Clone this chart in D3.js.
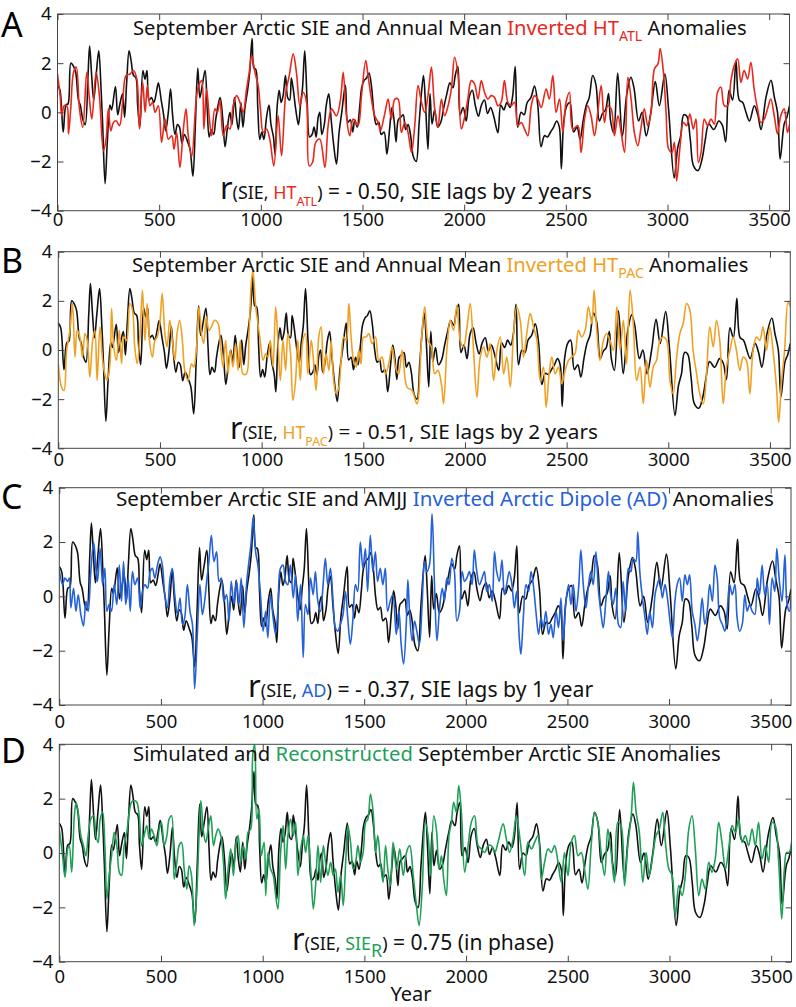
<!DOCTYPE html>
<html>
<head>
<meta charset="utf-8">
<title>Arctic SIE anomalies</title>
<script src="https://cdnjs.cloudflare.com/ajax/libs/d3/7.8.5/d3.min.js"></script>
<style>
  body { margin: 0; background: #fff; }
  svg { display: block; font-family: "Noto Sans", "Open Sans", sans-serif; }
</style>
</head>
<body>
<svg id="chart" width="796" height="1007"></svg>
<script>
// [year, anomaly]
const sie = [[0,1.1],[12,0.9],[28,-0.8],[42,0.3],[52,0.35],[66,2.0],[80,1.85],[90,1.6],[103,0.5],[112,0.3],[125,-0.3],[136,-0.5],[150,1.5],[158,2.7],[168,1.5],[178,0.5],[190,1.5],[203,2.5],[214,1.0],[222,-0.5],[234,-2.9],[245,-1.2],[258,0.3],[266,0.1],[285,1.05],[296,-0.1],[306,0.3],[320,0.75],[330,-0.2],[340,1.2],[352,2.5],[362,2.1],[374,1.5],[386,1.4],[394,0.3],[405,-0.6],[420,1.7],[430,1.35],[440,1.7],[450,0.5],[462,0.6],[474,0.4],[486,0.8],[496,1.2],[510,0.5],[522,-0.1],[532,-0.75],[545,0.0],[556,0.95],[566,-0.1],[578,-0.9],[590,-0.5],[600,-0.6],[612,-1.25],[624,-0.9],[640,-1.2],[652,-1.5],[666,-2.6],[678,-0.5],[690,1.8],[700,0.6],[712,1.1],[726,1.7],[736,0.2],[746,-1.0],[756,-0.7],[768,-0.9],[778,-0.3],[790,0.3],[800,0.6],[812,-0.2],[824,-1.4],[836,-0.6],[848,0.0],[858,-0.5],[870,0.6],[880,-0.2],[890,-0.7],[902,0.4],[912,-0.6],[922,0.2],[935,0.9],[945,1.6],[957,3.0],[966,1.8],[975,1.75],[985,0.2],[995,-1.1],[1005,-0.8],[1015,-1.1],[1028,-0.2],[1040,0.3],[1050,-0.5],[1062,-1.0],[1070,-1.7],[1080,0.2],[1090,0.9],[1100,0.4],[1110,0.7],[1121,1.5],[1132,0.6],[1142,0.5],[1150,1.4],[1160,0.9],[1172,0.1],[1185,-0.5],[1195,0.3],[1205,1.0],[1216,2.5],[1228,0.4],[1240,-1.0],[1252,-0.9],[1262,-0.6],[1272,-1.0],[1282,-0.2],[1290,0.0],[1300,-0.9],[1312,-0.5],[1322,0.3],[1334,0.75],[1346,-0.3],[1358,-1.3],[1372,-2.1],[1385,-0.8],[1398,0.0],[1416,1.1],[1428,-0.4],[1440,-0.3],[1452,-0.8],[1462,-0.3],[1474,-0.6],[1486,0.2],[1496,1.0],[1508,1.3],[1520,1.4],[1532,1.6],[1545,1.0],[1556,0.0],[1568,-0.5],[1580,-0.4],[1592,-0.9],[1606,-0.8],[1620,-1.7],[1634,-0.6],[1645,0.2],[1655,-0.3],[1665,-1.2],[1676,-0.3],[1688,-0.2],[1700,-0.1],[1712,-0.7],[1724,-0.5],[1736,-0.9],[1750,-1.8],[1764,-2.0],[1778,-0.5],[1790,0.8],[1800,1.5],[1810,0.3],[1822,-1.5],[1832,0.76],[1842,-0.47],[1855,0.1],[1870,-0.6],[1885,-0.4],[1900,0.2],[1915,0.76],[1930,1.2],[1945,1.0],[1956,1.5],[1969,1.86],[1980,-0.1],[1995,0.2],[2010,-0.35],[2025,0.64],[2040,0.9],[2055,0.27],[2070,-0.16],[2085,0.3],[2100,0.5],[2115,-0.05],[2130,0.2],[2145,-0.15],[2166,-0.83],[2180,0.3],[2195,0.1],[2210,0.4],[2225,0.2],[2238,0.64],[2251,1.86],[2263,-0.6],[2280,0.0],[2295,-0.1],[2310,0.4],[2328,0.6],[2346,1.07],[2362,0.3],[2378,-1.4],[2395,-0.95],[2410,-1.0],[2425,-0.8],[2440,-0.6],[2455,-0.35],[2468,-0.6],[2478,-2.3],[2490,-0.35],[2505,0.27],[2520,0.4],[2538,-0.8],[2555,-0.6],[2570,-1.1],[2585,-0.35],[2600,0.27],[2615,0.6],[2632,1.5],[2648,1.13],[2665,-0.35],[2680,-0.05],[2695,0.1],[2710,0.76],[2720,-0.35],[2735,-0.83],[2755,1.6],[2778,-0.96],[2800,0.76],[2820,1.43],[2835,1.0],[2858,-0.35],[2875,0.0],[2895,-0.96],[2918,0.0],[2940,1.25],[2960,0.27],[2987,1.56],[3005,0.15],[3033,-2.67],[3050,-1.45],[3065,-0.96],[3080,-0.1],[3095,-0.16],[3112,-1.1],[3128,-2.18],[3150,-2.37],[3170,-1.9],[3186,-1.1],[3203,-0.47],[3228,-0.7],[3252,-0.35],[3270,-0.53],[3286,-1.2],[3303,0.9],[3320,0.5],[3337,2.1],[3353,0.5],[3370,0.4],[3386,0.0],[3403,-0.35],[3427,0.27],[3444,-0.1],[3460,-0.7],[3485,0.64],[3509,1.3],[3525,0.64],[3541,0.0],[3554,-1.9],[3574,-0.47],[3587,-0.2],[3600,0.27]];

const htAtl = [[0,1.56],[13,0.68],[21,-0.14],[33,0.27],[46,0.27],[54,-0.88],[65,0.14],[79,1.63],[92,1.84],[108,0.14],[124,-0.61],[144,1.63],[157,0.54],[169,-0.27],[190,1.63],[206,0.68],[226,-1.56],[239,-1.09],[250,0.14],[262,-0.75],[275,-0.41],[288,-0.34],[305,-0.54],[321,0.48],[337,1.5],[357,1.56],[373,1.7],[390,1.36],[403,-0.68],[419,1.22],[431,0],[442,1.09],[455,0.27],[468,0.41],[480,0],[496,0.27],[512,-1.22],[529,-0.27],[545,-1.09],[562,-0.95],[573,-1.5],[586,-0.82],[602,-2.24],[619,-0.68],[632,0.14],[643,-0.95],[660,-1.8],[681,0.41],[692,1.02],[709,1.29],[720,-0.68],[733,0.95],[747,-0.27],[758,-0.95],[774,0.14],[786,0],[799,0.48],[815,-0.95],[832,-0.54],[848,-0.68],[864,0.27],[881,0.68],[897,0.41],[913,0],[930,0.95],[943,1.63],[955,2.31],[971,1.63],[987,1.09],[998,0.14],[1012,-0.82],[1028,-0.68],[1044,-1.09],[1064,-2.18],[1085,-0.14],[1102,-1.77],[1123,0.82],[1140,1.5],[1159,2.38],[1175,1.63],[1192,0.27],[1208,0.82],[1225,0.41],[1238,-2.18],[1254,-2.04],[1270,-1.22],[1290,-1.09],[1315,-2.24],[1331,-0.54],[1348,0.14],[1372,-0.14],[1392,0.54],[1405,1.63],[1421,-0.14],[1437,-0.95],[1454,-0.27],[1478,-0.54],[1495,0.68],[1516,2.11],[1527,1.5],[1544,0.54],[1560,-0.14],[1577,-0.41],[1588,-0.75],[1609,-0.07],[1626,0.54],[1642,-0.27],[1659,0.54],[1675,0.54],[1691,-0.82],[1708,-0.41],[1724,-0.82],[1741,-1.63],[1757,-0.54],[1773,1.09],[1790,0.41],[1806,0],[1822,0.68],[1839,1.84],[1855,0.14],[1871,-0.61],[1888,0.54],[1904,-0.14],[1921,0.27],[1937,0.95],[1953,2.24],[1970,1.5],[1986,-0.68],[2002,-0.2],[2018,0.54],[2035,1.29],[2051,1.16],[2068,0.54],[2084,1.29],[2100,0.82],[2117,0.54],[2133,0.68],[2149,0.61],[2166,0.27],[2182,0.41],[2198,1.29],[2215,0.41],[2231,0.27],[2248,0.41],[2264,-0.54],[2281,-0.41],[2297,-0.68],[2313,-0.95],[2330,0.27],[2346,0.68],[2362,0.54],[2379,0.2],[2403,0.95],[2419,0.54],[2436,1.5],[2452,0],[2469,0.54],[2485,-0.82],[2501,0.41],[2518,0.82],[2534,-0.68],[2559,-0.54],[2575,-1.63],[2592,-0.27],[2608,0.27],[2624,-0.14],[2641,-0.95],[2657,0],[2674,1.09],[2690,-0.41],[2706,0.27],[2723,0.14],[2739,-0.95],[2756,-0.14],[2772,-0.82],[2789,-1.63],[2805,1.43],[2821,0.54],[2837,-0.82],[2854,-1.36],[2870,-0.61],[2886,0.14],[2903,-0.54],[2919,0],[2936,1.77],[2953,1.97],[2964,2.59],[2980,1.63],[2993,0],[3006,-1.5],[3022,-1.63],[3034,-1.22],[3045,-2.79],[3062,-1.36],[3078,-0.41],[3094,-0.54],[3110,-0.07],[3127,-0.68],[3140,-0.27],[3152,-2.04],[3165,-1.63],[3181,-0.27],[3197,-0.54],[3214,-0.27],[3230,-0.48],[3246,0.82],[3263,1.02],[3279,0.27],[3296,0.27],[3312,1.29],[3328,1.9],[3345,2.18],[3361,1.22],[3377,1.7],[3394,1.36],[3410,2.04],[3426,0.95],[3443,0.14],[3459,-0.41],[3476,-0.27],[3492,0.14],[3508,0.54],[3525,-0.14],[3541,-0.88],[3557,-0.14],[3574,0.14],[3590,-0.82],[3600,-0.5]];

const htPac = [[0,-0.56],[16,-1.51],[28,-1.65],[41,-0.01],[57,0.8],[70,1.89],[82,-0.29],[93,0.8],[106,0.53],[119,-0.29],[131,0.67],[142,0.39],[155,-1.1],[169,0.39],[180,0.8],[191,-1.24],[205,0.94],[218,-0.42],[229,-0.97],[240,-1.24],[254,-0.56],[262,1.69],[273,0.12],[286,-0.42],[300,0.8],[311,-0.56],[322,0.53],[336,0.39],[352,1.89],[365,1.62],[376,0.12],[388,-0.56],[401,0.53],[414,2.44],[426,0.39],[437,1.89],[450,0.26],[463,-0.29],[475,0.39],[486,0.53],[499,1.07],[511,2.3],[524,0.67],[535,0.12],[548,1.21],[561,0.39],[573,-0.42],[584,0.67],[597,1.21],[610,0.39],[622,-0.83],[638,-1.24],[655,-0.56],[666,-0.69],[679,-0.01],[692,1.76],[704,0.67],[715,0.26],[728,1.35],[741,0.8],[753,0.94],[769,1.21],[786,1.07],[797,0.26],[810,-0.69],[823,0.39],[835,-0.97],[846,-0.01],[859,-0.69],[872,0.26],[884,-0.83],[895,0.39],[908,-0.97],[925,-0.97],[938,0.67],[949,2.71],[957,3.25],[971,1.76],[982,1.07],[993,0.39],[1007,-0.42],[1020,-0.15],[1031,-0.29],[1043,0.39],[1056,-0.69],[1069,1.76],[1080,0.39],[1092,-1.24],[1105,0.39],[1118,-0.83],[1129,0.67],[1141,-0.01],[1154,-2.05],[1167,-1.24],[1178,0.39],[1190,-1.24],[1203,0.39],[1216,0.67],[1227,-0.97],[1244,0.39],[1255,-0.42],[1268,-1.65],[1281,0.53],[1293,0.94],[1304,-0.97],[1317,-0.15],[1331,-0.83],[1342,0.39],[1354,-1.24],[1367,-1.78],[1380,-1.51],[1391,-0.42],[1403,0.53],[1416,0.39],[1429,1.89],[1440,0.53],[1452,-0.42],[1465,-0.69],[1478,-0.01],[1489,-0.56],[1501,0.53],[1514,0.53],[1527,0.67],[1543,0.26],[1560,0.53],[1576,-0.42],[1592,-0.29],[1609,-0.97],[1625,-0.56],[1642,0.12],[1658,-0.69],[1674,-0.97],[1691,-0.01],[1715,-1.51],[1740,-1.65],[1764,-2.19],[1786,0.39],[1802,1.76],[1818,0.39],[1835,0.12],[1851,-0.97],[1867,-0.83],[1884,-1.37],[1895,-2.19],[1912,0.12],[1928,1.21],[1944,0.8],[1960,1.82],[1977,0.39],[1993,0.12],[2010,0.94],[2026,1.89],[2042,-0.01],[2059,-1.92],[2075,-0.29],[2092,0.12],[2108,-0.29],[2124,0.26],[2141,-1.24],[2157,-0.01],[2174,0.53],[2190,-0.97],[2206,-0.29],[2223,-1.51],[2239,0.67],[2255,1.76],[2272,1.21],[2288,-0.29],[2304,0.67],[2321,1.48],[2337,0.94],[2354,0.39],[2370,-1.24],[2386,-0.69],[2399,-2.33],[2414,-0.97],[2427,-0.29],[2444,-0.97],[2460,-0.69],[2476,-1.37],[2493,-0.83],[2509,-0.42],[2525,-0.29],[2541,-0.15],[2558,0.8],[2574,0.53],[2591,0.8],[2607,1.76],[2624,1.07],[2635,2.44],[2648,0.8],[2664,-0.42],[2681,0.39],[2697,0.67],[2713,0.39],[2730,-0.01],[2747,1.76],[2763,-0.01],[2779,1.21],[2795,-0.56],[2812,2.44],[2828,1.07],[2844,-1.24],[2861,-0.69],[2877,-2.19],[2893,-0.42],[2910,-1.51],[2926,-0.69],[2942,-0.42],[2959,0.39],[2975,0.53],[2992,0.39],[3008,-1.24],[3024,-1.78],[3041,-0.29],[3057,0.67],[3073,1.07],[3090,1.89],[3106,1.62],[3122,-0.01],[3139,-0.97],[3155,-1.78],[3172,-2.19],[3188,-0.97],[3204,0.94],[3221,0.12],[3237,1.21],[3253,0.39],[3270,-2.19],[3286,-0.69],[3303,-0.01],[3319,0.53],[3335,-0.01],[3352,-0.83],[3368,-0.29],[3384,-0.42],[3401,-1.78],[3417,-0.01],[3434,0.53],[3450,0.39],[3466,0.94],[3483,-0.01],[3499,0.94],[3515,-0.01],[3532,-1.51],[3543,-2.94],[3556,-1.37],[3572,-0.01],[3589,1.96],[3600,1.76]];

const ad = [[0,0.97],[16,0.43],[28,0.67],[41,0.55],[49,0.67],[57,-0.43],[70,0.3],[82,-0.55],[93,0.06],[106,-0.67],[119,-1.09],[131,-0.18],[142,-0.55],[155,0.91],[169,2.0],[180,1.03],[188,0.55],[201,1.76],[213,0.43],[224,1.03],[234,-0.55],[245,-0.3],[257,-0.55],[270,0.43],[283,-0.3],[295,1.15],[306,-0.18],[316,1.28],[327,-0.3],[339,0.67],[349,-0.55],[360,0.91],[372,0.43],[385,0.67],[398,-0.43],[409,0.18],[421,0.43],[434,0.3],[447,0.91],[458,1.03],[470,0.67],[483,1.15],[496,1.46],[507,1.15],[519,0.06],[532,-0.43],[545,0.67],[556,1.03],[568,0.06],[581,-0.67],[594,-0.06],[606,-1.03],[617,-0.79],[630,0.43],[643,-0.55],[655,-1.03],[666,-3.4],[679,-1.4],[692,0.43],[704,-0.67],[715,-0.18],[725,0.55],[736,1.28],[748,2.25],[761,1.28],[774,1.64],[786,0.55],[797,0.67],[810,-0.18],[823,0.06],[835,-0.91],[846,0.55],[859,-0.3],[872,0.55],[884,-0.3],[895,0.67],[908,-1.15],[921,0.43],[933,1.28],[944,2.0],[954,2.92],[966,1.64],[977,1.15],[990,0.06],[1003,-1.28],[1015,-0.55],[1026,-1.52],[1039,0.06],[1052,-0.79],[1064,-1.4],[1075,-0.55],[1088,1.03],[1101,1.15],[1113,0.55],[1124,0.43],[1137,1.15],[1151,-0.06],[1162,0.79],[1173,-0.91],[1187,0.43],[1200,-2.25],[1211,-0.3],[1223,-0.67],[1236,0.67],[1249,0.06],[1260,0.91],[1272,-0.18],[1285,-0.55],[1298,0.43],[1309,1.4],[1321,0.43],[1334,1.03],[1347,-0.18],[1358,-1.15],[1370,-1.28],[1383,-1.03],[1396,-0.67],[1408,0.18],[1419,-0.79],[1432,-1.76],[1445,-0.79],[1457,0.43],[1468,0.18],[1481,2.0],[1494,1.03],[1506,1.76],[1517,0.18],[1530,2.25],[1543,0.91],[1555,1.64],[1566,0.55],[1579,1.03],[1592,0.43],[1604,1.03],[1615,-0.55],[1628,-0.18],[1641,0.06],[1658,-1.4],[1671,-0.55],[1682,-1.76],[1694,-2.49],[1707,-1.03],[1715,0.61],[1723,-0.55],[1736,-1.64],[1748,-0.91],[1759,-1.28],[1772,-1.76],[1785,-0.3],[1797,1.28],[1808,0.91],[1821,1.15],[1834,3.04],[1846,0.43],[1858,-1.64],[1871,-0.43],[1884,0.3],[1895,-0.18],[1907,0.67],[1918,0.43],[1931,1.4],[1944,0.91],[1956,-0.91],[1969,-0.55],[1982,0.91],[1994,0.55],[2005,0.67],[2018,0.91],[2031,0.43],[2042,1.7],[2054,0.91],[2067,0.43],[2080,0.67],[2092,0.91],[2103,0.18],[2116,0.43],[2130,-0.18],[2141,1.64],[2152,0.91],[2165,0.55],[2178,1.34],[2190,0.06],[2201,0.43],[2214,0.91],[2227,0.43],[2239,-0.43],[2250,0.18],[2263,-1.52],[2271,-2.13],[2283,-0.79],[2296,0.43],[2309,0.18],[2321,0.91],[2332,0.43],[2345,-0.55],[2358,-1.4],[2370,-0.79],[2381,-1.15],[2394,-0.55],[2407,-1.4],[2419,-1.03],[2430,-1.52],[2444,-0.55],[2456,-1.15],[2468,-0.06],[2479,-1.64],[2493,-0.18],[2506,0.43],[2517,-0.3],[2529,0.43],[2542,-0.55],[2555,0.3],[2566,1.7],[2578,0.43],[2591,-0.43],[2604,0.43],[2615,0.91],[2627,0.43],[2640,1.64],[2653,0.18],[2664,-0.55],[2676,-1.15],[2689,-0.18],[2702,0.91],[2713,0.06],[2725,-0.3],[2738,0.3],[2751,-1.03],[2762,-1.15],[2774,0.55],[2787,-0.55],[2800,1.03],[2812,0.91],[2823,1.4],[2836,1.28],[2846,2.37],[2856,0.91],[2869,-0.06],[2882,-0.79],[2893,-1.4],[2905,-0.55],[2918,-1.15],[2931,0.06],[2942,0.43],[2954,0.67],[2967,-0.06],[2980,0.43],[2992,-0.06],[3003,-0.79],[3016,-1.52],[3029,-0.18],[3040,0.43],[3052,0.67],[3065,-0.18],[3078,0.79],[3090,0.43],[3101,0.79],[3114,-0.55],[3127,-1.03],[3139,-1.64],[3151,-1.03],[3163,-0.06],[3176,-1.03],[3188,-0.55],[3200,0.43],[3213,-0.18],[3226,1.15],[3237,0.67],[3249,-0.79],[3262,-1.03],[3275,-1.28],[3286,-0.55],[3298,0.43],[3311,0.06],[3324,0.43],[3335,-0.79],[3347,-1.28],[3360,-1.03],[3373,0.06],[3384,-0.55],[3396,-0.3],[3409,-0.55],[3422,-0.67],[3434,0.67],[3445,0.06],[3458,1.15],[3471,0.06],[3483,0.43],[3494,-1.03],[3507,0.67],[3520,0.18],[3530,1.76],[3543,0.55],[3556,-0.18],[3570,1.52],[3581,-0.3],[3592,-0.55],[3600,-0.06]];

const sieR = [[0,0.88],[16,-0.1],[28,-0.9],[41,0.15],[49,0.27],[61,-0.71],[74,1.37],[83,1.87],[93,1.5],[106,0.64],[119,0.27],[131,-0.1],[142,0.64],[155,1.25],[169,1.37],[180,0.64],[191,0.39],[201,1.25],[213,1.5],[224,0.27],[234,-1.69],[245,-0.83],[257,-0.1],[270,0.76],[283,0.27],[295,-0.71],[306,-0.83],[319,0.27],[332,0.76],[344,1.5],[355,1.87],[368,1.93],[381,1.87],[393,1.37],[404,0.27],[417,0.64],[430,1.01],[442,0.52],[453,0.88],[466,0.64],[480,0.27],[491,0.88],[502,1.13],[516,0.27],[529,0.64],[540,1.25],[552,1.37],[565,-0.96],[578,-0.34],[589,0.27],[601,0.39],[614,-0.59],[627,-1.33],[638,-0.47],[650,-0.83],[663,-2.67],[676,-1.45],[687,0.64],[696,1.93],[709,0.76],[720,0.39],[732,0.88],[745,1.37],[758,0.27],[769,0.64],[781,0.88],[794,0.64],[807,-0.34],[818,-1.69],[830,-0.59],[843,0.15],[856,-0.83],[867,0.27],[879,0.64],[892,-0.34],[905,0.27],[917,-0.22],[928,0.76],[941,0.88],[951,3.58],[961,4.0],[971,1.25],[982,1.62],[993,-0.1],[1007,0.39],[1015,-1.57],[1026,0.02],[1039,-0.59],[1052,-0.83],[1064,-1.57],[1075,-2.06],[1088,0.02],[1101,1.01],[1113,-0.59],[1124,0.64],[1137,1.25],[1151,0.64],[1162,1.13],[1173,-0.83],[1187,0.15],[1200,0.64],[1211,0.02],[1223,0.64],[1236,-0.59],[1249,-2.06],[1260,-1.2],[1272,0.27],[1285,-1.08],[1298,0.27],[1309,-0.34],[1321,-0.83],[1334,-0.34],[1347,-0.83],[1358,-0.59],[1370,-1.45],[1383,-0.83],[1396,-1.94],[1408,-0.34],[1419,1.01],[1432,0.39],[1445,-0.59],[1457,-0.34],[1468,0.27],[1481,-0.34],[1494,0.02],[1506,1.13],[1517,1.25],[1530,2.17],[1543,1.5],[1555,0.02],[1566,0.64],[1579,-0.34],[1592,-1.08],[1604,0.27],[1615,-0.59],[1628,-1.2],[1641,0.39],[1658,-0.59],[1674,0.15],[1691,-0.83],[1707,0.02],[1723,0.27],[1740,-0.83],[1756,-1.94],[1769,-2.67],[1785,-1.2],[1799,1.13],[1813,0.64],[1826,-0.83],[1841,1.37],[1854,0.88],[1867,-0.59],[1879,-0.1],[1890,-0.96],[1903,-1.57],[1916,0.64],[1928,1.13],[1939,1.87],[1952,1.5],[1964,2.48],[1977,1.5],[1993,-0.71],[2010,0.27],[2026,1.13],[2042,1.37],[2059,0.27],[2075,0.15],[2092,0.02],[2108,0.27],[2124,0.27],[2141,0.02],[2157,0.39],[2182,1.07],[2198,0.52],[2214,0.02],[2231,0.52],[2247,1.37],[2267,0.39],[2288,-0.83],[2304,0.39],[2321,0.15],[2337,0.39],[2354,0.64],[2370,-0.96],[2386,-0.34],[2403,0.15],[2419,0.02],[2435,0.27],[2452,-0.34],[2468,-1.08],[2484,0.02],[2501,-0.83],[2517,0.39],[2533,0.64],[2550,-0.1],[2566,0.02],[2582,-0.59],[2599,-1.33],[2615,0.27],[2632,1.5],[2648,1.13],[2664,0.02],[2681,-0.83],[2697,0.88],[2713,0.02],[2730,-1.08],[2746,1.13],[2762,1.01],[2779,-1.2],[2795,0.27],[2812,1.37],[2823,2.6],[2836,1.5],[2852,0.76],[2869,-1.08],[2885,0.02],[2901,-0.83],[2918,-0.1],[2934,0.64],[2950,0.88],[2967,1.5],[2980,0.39],[2997,-0.59],[3013,-0.83],[3029,-2.31],[3046,-1.2],[3062,-1.57],[3078,-0.83],[3095,0.88],[3111,1.37],[3127,0.15],[3144,-1.57],[3160,-0.96],[3176,-1.33],[3193,-0.34],[3209,-0.71],[3225,-0.22],[3242,1.13],[3258,0.39],[3275,-0.59],[3291,0.15],[3308,1.01],[3324,0.76],[3340,1.25],[3357,0.39],[3373,0.64],[3389,0.27],[3406,0.88],[3422,0.27],[3438,1.13],[3455,-0.22],[3471,0.27],[3488,-0.34],[3504,1.13],[3520,1.01],[3537,-0.34],[3552,-2.43],[3565,-0.59],[3576,0.02],[3589,0.02],[3600,0.39]];

const xTicks = [0, 500, 1000, 1500, 2000, 2500, 3000, 3500];
const yTicks = [-4, -2, 0, 2, 4];
const xDomain = [0, 3600];
const yDomain = [-4, 4];

const red = "#e8281c", orange = "#f0a124", blue = "#2561d8", green = "#1f9f58";

// text pieces: [text, colour, size relative to base, "sub"]
const panels = [
  { letter: "A", top: 14, bottom: 210.7, left: 57.5, right: 789.5, pad: 2, letterY: 37,
    series: htAtl, color: red,
    title: [["September Arctic SIE and Annual Mean "], ["Inverted HT", red], ["ATL", red, 0.7, "sub"], [" Anomalies"]],
    titleX: 133, titleW: 614, titleY: 35,
    note: [["r", null, 1.45], ["(SIE, ", null, 0.85], ["HT", red, 0.85], ["ATL", red, 0.6, "sub"], [")", null, 0.85], [" = - 0.50,  SIE lags by 2 years"]],
    noteX: 220, noteW: 372, noteY: 199 },
  { letter: "B", top: 251.7, bottom: 448.3, left: 58.3, right: 790.3, pad: 5, letterY: 273,
    series: htPac, color: orange,
    title: [["September Arctic SIE and Annual Mean "], ["Inverted HT", orange], ["PAC", orange, 0.7, "sub"], [" Anomalies"]],
    titleX: 132, titleW: 617, titleY: 272,
    note: [["r", null, 1.45], ["(SIE, ", null, 0.85], ["HT", orange, 0.85], ["PAC", orange, 0.6, "sub"], [")", null, 0.85], [" = - 0.51,  SIE lags by 2 years"]],
    noteX: 230, noteW: 368, noteY: 439 },
  { letter: "C", top: 487.7, bottom: 705, left: 59.3, right: 791, pad: 10, letterY: 509,
    series: ad, color: blue,
    title: [["September Arctic SIE and AMJJ "], ["Inverted Arctic Dipole (AD)", blue], [" Anomalies"]],
    titleX: 116, titleW: 658, titleY: 506,
    note: [["r", null, 1.45], ["(SIE, ", null, 0.85], ["AD", blue, 0.85], [")", null, 0.85], [" = - 0.37,  SIE lags by 1 year"]],
    noteX: 248, noteW: 346, noteY: 697 },
  { letter: "D", top: 744.3, bottom: 961.7, left: 59.3, right: 791.5, pad: 8, letterY: 763,
    series: sieR, color: green,
    title: [["Simulated and "], ["Reconstructed", green], [" September Arctic SIE Anomalies"]],
    titleX: 133, titleW: 588, titleY: 761,
    note: [["r", null, 1.45], ["(SIE, ", null, 0.85], ["SIE", green, 0.85], ["R", green, 0.85, "sub"], [")", null, 0.85], [" = 0.75 (in phase)"]],
    noteX: 292, noteW: 262, noteY: 950 }
];

const svg = d3.select("#chart");

// write the pieces as tspans, then scale the font so the line spans the target width
function richText(g, pieces, x, y, width, base) {
  const t = g.append("text").attr("x", x).attr("y", y).attr("font-size", base).attr("fill", "#111");
  let shift = 0; // baseline shift, in base units
  pieces.forEach(p => {
    const size = p[2] || 1;
    const want = p[3] === "sub" ? 0.32 : 0;
    const ts = t.append("tspan").text(p[0]).attr("font-size", size + "em");
    if (p[1]) ts.attr("fill", p[1]);
    if (want !== shift) ts.attr("dy", ((want - shift) / size).toFixed(3) + "em");
    shift = want;
  });
  const w = t.node().getBBox().width;
  t.attr("font-size", base * width / w);
  return t;
}

panels.forEach((p, i) => {
  const x = d3.scaleLinear().domain(xDomain).range([p.left, p.right]);
  const y = d3.scaleLinear().domain(yDomain).range([p.bottom, p.top]);
  const g = svg.append("g");

  g.append("clipPath").attr("id", "clip" + i)
    .append("rect").attr("x", p.left).attr("y", p.top)
    .attr("width", p.right - p.left).attr("height", p.bottom - p.top);

  const line = d3.line()
    .x(d => x(d[0])).y(d => y(d[1]))
    .curve(d3.curveCatmullRom.alpha(0.5));

  const lines = g.append("g").attr("clip-path", `url(#clip${i})`)
    .attr("fill", "none").attr("stroke-width", 1.6).attr("stroke-linejoin", "round");
  lines.append("path").datum(sie).attr("stroke", "#111").attr("d", line);
  lines.append("path").datum(p.series).attr("stroke", p.color).attr("d", line);

  // axes with inward ticks on all four sides
  const axisColor = "#444";
  const styleAxis = sel => {
    sel.select(".domain").remove();
    sel.selectAll(".tick line").attr("stroke", axisColor);
    sel.selectAll(".tick text").attr("fill", "#111").attr("font-size", 18.5)
      .attr("font-family", "Noto Sans, Open Sans, sans-serif");
  };
  g.append("g").attr("transform", `translate(0,${p.bottom})`)
    .call(d3.axisBottom(x).tickValues(xTicks).tickFormat(d3.format("d"))
      .tickSizeInner(-6).tickSizeOuter(0).tickPadding(p.pad))
    .call(styleAxis);
  g.append("g").attr("transform", `translate(0,${p.top})`)
    .call(d3.axisTop(x).tickValues(xTicks).tickSizeInner(-6).tickSizeOuter(0).tickFormat(""))
    .call(styleAxis);
  g.append("g").attr("transform", `translate(${p.left},0)`)
    .call(d3.axisLeft(y).tickValues(yTicks).tickSizeInner(-6).tickSizeOuter(0).tickPadding(6))
    .call(styleAxis);
  g.append("g").attr("transform", `translate(${p.right},0)`)
    .call(d3.axisRight(y).tickValues(yTicks).tickSizeInner(-6).tickSizeOuter(0).tickFormat(""))
    .call(styleAxis);

  g.append("rect").attr("x", p.left).attr("y", p.top)
    .attr("width", p.right - p.left).attr("height", p.bottom - p.top)
    .attr("fill", "none").attr("stroke", axisColor).attr("stroke-width", 1);

  richText(g, p.title, p.titleX, p.titleY, p.titleW, 17);
  richText(g, p.note, p.noteX, p.noteY, p.noteW, 18);

  g.append("text").attr("x", 1).attr("y", p.letterY)
    .attr("font-size", 34).attr("fill", "#000").text(p.letter);
});

svg.append("text").attr("x", 411).attr("y", 1001).attr("text-anchor", "middle")
  .attr("font-size", 20).attr("fill", "#111").text("Year");
</script>
</body>
</html>
